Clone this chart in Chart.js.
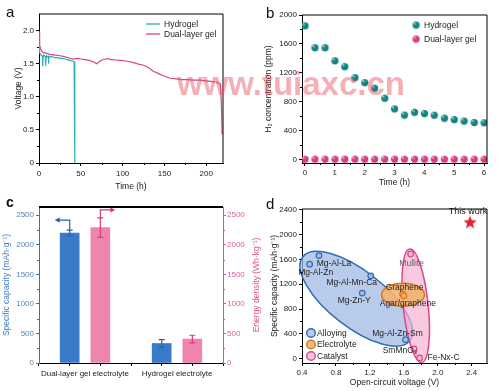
<!DOCTYPE html>
<html>
<head>
<meta charset="utf-8">
<script src="https://cdn.jsdelivr.net/npm/chart.js@4.4.0/dist/chart.umd.min.js"></script>
<style>
  body { margin: 0; width: 499px; height: 391px; background: #fff; position: relative; overflow: hidden; font-family: 'Liberation Sans', Arial, sans-serif; }
  .panel { position: absolute; }
  .tag { position: absolute; font-size: 15px; color: #111; line-height: 15px; }
  .mark { position: absolute; left: 177px; top: 67px; font: bold 33px 'Liberation Sans', Arial, sans-serif; line-height: 33px; color: rgba(236, 80, 92, 0.45); white-space: nowrap; }
</style>
</head>
<body>
<canvas class="panel" id="chartA" width="250" height="195" style="left:0;top:0"></canvas>
<canvas class="panel" id="chartB" width="249" height="195" style="left:250px;top:0"></canvas>
<canvas class="panel" id="chartD" width="249" height="196" style="left:250px;top:195px"></canvas>
<canvas class="panel" id="chartC" width="265" height="196" style="left:0;top:195px"></canvas>
<div class="tag" style="left:6px;top:4px">a</div>
<div class="tag" style="left:266px;top:5px">b</div>
<div class="tag" style="left:6px;top:195px;font-weight:bold;font-size:14px">c</div>
<div class="tag" style="left:266px;top:196px">d</div>
<div class="mark">www.tuiaxc.cn</div>
<script>
// ---- panel a: discharge voltage
const timeHydro = [0, 0.3, 0.8, 1.5, 2.5, 3.5, 4.2, 4.5, 4.8, 5.5, 6.5, 7.5, 8, 8.4, 9, 10, 11, 11.4, 11.8, 13, 15, 17, 19, 22, 25, 28, 31, 34, 37, 40, 42, 42.6, 43]
const voltHydro = [1.72, 1.82, 1.68, 1.64, 1.63, 1.62, 1.6, 1.46, 1.61, 1.63, 1.62, 1.61, 1.47, 1.6, 1.62, 1.61, 1.6, 1.5, 1.61, 1.6, 1.61, 1.6, 1.59, 1.59, 1.58, 1.58, 1.57, 1.56, 1.55, 1.54, 1.53, 1.52, 0]
const timeDual = [0, 0.5, 1, 2, 3, 5, 8, 13, 20, 25, 29, 35, 41, 45, 50, 55, 60, 65, 69, 72, 75, 80, 82, 86, 92, 98, 104, 112, 120, 124, 128, 132, 136, 143, 150, 157, 164, 170, 176, 185, 192, 200, 207, 213, 217, 218, 219]
const voltDual = [1.99, 1.86, 1.78, 1.72, 1.69, 1.67, 1.66, 1.64, 1.63, 1.62, 1.61, 1.59, 1.57, 1.58, 1.57, 1.56, 1.55, 1.53, 1.5, 1.53, 1.555, 1.57, 1.58, 1.56, 1.555, 1.55, 1.54, 1.52, 1.49, 1.48, 1.46, 1.43, 1.39, 1.35, 1.31, 1.28, 1.27, 1.26, 1.26, 1.25, 1.25, 1.24, 1.23, 1.22, 1.19, 0.9, 0.43]
const voltTicks = [0, 0.5, 1, 1.5, 2]
const timeTicks = [0, 50, 100, 150, 200]

// ---- panel b: H2 concentration
const h2Time = [0, 0.33, 0.67, 1, 1.33, 1.67, 2, 2.33, 2.67, 3, 3.33, 3.67, 4, 4.33, 4.67, 5, 5.33, 5.67, 6]
const h2Hydro = [1852, 1549, 1549, 1368, 1287, 1135, 1066, 989, 851, 703, 618, 657, 639, 616, 575, 556, 535, 515, 512]
const h2Dual = [8, 8, 8, 8, 8, 8, 8, 8, 8, 8, 8, 8, 8, 8, 8, 8, 8, 8, 8]
const h2Ticks = [0, 400, 800, 1200, 1600, 2000]
const hourTicks = [0, 1, 2, 3, 4, 5, 6]

// ---- panel c: capacity / energy density
const elecNames = ['Dual-layer gel electrolyte', 'Hydrogel electrolyte']
const capacity = [2200, 330]
const capacityErr = [50, 65]
const energy = [2290, 405]
const energyErr = [165, 65]
const capTicks = [0, 500, 1000, 1500, 2000, 2500]

// ---- panel d: comparison with reported anodes
const refNames = ['Mg-Al-La', 'Mg-Al-Zn', 'Mg-Al-Mn-Ca', 'Mg-Zn-Y', 'Mg-Al-Zn-Sm', 'Graphene', 'Agar/graphene', 'Mullite', 'SmMnO₃', 'Fe-Nx-C']
const refGroup = ['Alloying', 'Alloying', 'Alloying', 'Alloying', 'Alloying', 'Electrolyte', 'Electrolyte', 'Catalyst', 'Catalyst', 'Catalyst']
const refVoltage = [0.6, 0.49, 1.21, 1.11, 1.62, 1.585, 1.6, 1.68, 1.72, 1.785]
const refCapacity = [1663, 1525, 1336, 1058, 306, 1045, 1015, 1690, 156, 11]
const workVoltage = [2.38]
const workCapacity = [2195]
const ocvTicks = [0.4, 0.8, 1.2, 1.6, 2.0, 2.4]
const capTicksD = [0, 400, 800, 1200, 1600, 2000, 2400]

const groupNames = ['Alloying', 'Electrolyte', 'Catalyst']
const groupLine = { Alloying: '#2f6db3', Electrolyte: '#d07a28', Catalyst: '#e0458c' }
const groupFill = { Alloying: 'rgba(160,185,228,0.75)', Electrolyte: 'rgba(243,178,110,0.9)', Catalyst: 'rgba(246,178,210,0.7)' }

const FONT = "'Liberation Sans', Arial, sans-serif"
const pts = (xs, ys) => xs.map((x, i) => ({ x, y: ys[i] }))

const axis = o => ({
  type: 'linear',
  position: o.position,
  min: o.min,
  max: o.max,
  offset: false,
  afterBuildTicks: s => { s.ticks = o.ticks.map(v => ({ value: v })) },
  afterFit: s => {
    if (o.position === 'bottom') s.height = o.size
    else s.width = o.size
  },
  border: { display: true, color: o.color || '#000', width: 1 },
  grid: { drawOnChartArea: false, drawTicks: true, tickLength: 3, tickColor: o.color || '#000' },
  ticks: {
    color: o.tickColor || '#222',
    font: { family: FONT, size: 8 },
    padding: o.tickPad == null ? 2 : o.tickPad,
    maxRotation: 0,
    autoSkip: false,
    callback: o.fmt || (v => v)
  },
  title: {
    display: !!o.title,
    text: o.title,
    color: o.titleColor || '#222',
    font: { family: FONT, size: 8.5 },
    padding: o.titlePad || 0
  }
})

// frame round the plot area
const frame = {
  id: 'frame',
  afterDraw(chart, args, opts) {
    const { ctx, chartArea: a } = chart
    ctx.save()
    ctx.strokeStyle = '#000'
    ctx.lineWidth = opts.width || 1
    ctx.beginPath()
    ctx.moveTo(a.left, a.top)
    ctx.lineTo(a.right, a.top)
    if (!opts.topOnly) ctx.lineTo(a.right, a.bottom)
    ctx.stroke()
    ctx.restore()
  }
}

// small ticks halfway between major ones
const minorTicks = {
  id: 'minorTicks',
  afterDraw(chart, args, opts) {
    const ctx = chart.ctx
    ctx.save()
    ctx.lineWidth = 1
    ;(opts.axes || []).forEach(id => {
      const s = chart.scales[id]
      const vals = s.ticks.map(t => t.value)
      ctx.strokeStyle = s.options.grid.tickColor
      for (let i = 0; i < vals.length - 1; i++) {
        const p = Math.round(s.getPixelForValue((vals[i] + vals[i + 1]) / 2)) + 0.5
        ctx.beginPath()
        if (s.isHorizontal()) { ctx.moveTo(p, s.top); ctx.lineTo(p, s.top + 2) }
        else if (s.position === 'left') { ctx.moveTo(s.right, p); ctx.lineTo(s.right - 2, p) }
        else { ctx.moveTo(s.left, p); ctx.lineTo(s.left + 2, p) }
        ctx.stroke()
      }
    })
    ctx.restore()
  }
}

// legend drawn inside the plot
const inLegend = {
  id: 'inLegend',
  afterDraw(chart, args, opts) {
    const ctx = chart.ctx
    ctx.save()
    ctx.font = `${opts.size || 8.5}px ${FONT}`
    ctx.textBaseline = 'middle'
    opts.items.forEach((it, i) => {
      const y = opts.y + i * opts.gap
      if (it.type === 'line') {
        ctx.strokeStyle = it.color
        ctx.lineWidth = 1.3
        ctx.beginPath()
        ctx.moveTo(opts.x, y)
        ctx.lineTo(opts.x + 14, y)
        ctx.stroke()
      } else if (it.type === 'image') {
        ctx.drawImage(it.img, opts.x - it.img.width / 2, y - it.img.height / 2)
      } else {
        ctx.fillStyle = it.fill
        ctx.strokeStyle = it.color
        ctx.lineWidth = 1.4
        ctx.beginPath()
        ctx.arc(opts.x, y, 4.3, 0, Math.PI * 2)
        ctx.fill()
        ctx.stroke()
      }
      ctx.fillStyle = it.textColor || '#222'
      ctx.fillText(it.text, opts.x + opts.textDx, y + 0.5)
    })
    ctx.restore()
  }
}

const ball = (light, dark, r) => {
  const c = document.createElement('canvas')
  c.width = c.height = r * 2 + 2
  const g = c.getContext('2d')
  const grad = g.createRadialGradient(r * 0.75, r * 0.7, 0.3, r + 1, r + 1, r)
  grad.addColorStop(0, light)
  grad.addColorStop(0.45, dark)
  grad.addColorStop(1, dark)
  g.fillStyle = grad
  g.beginPath()
  g.arc(r + 1, r + 1, r, 0, Math.PI * 2)
  g.fill()
  return c
}

const star = (color, r) => {
  const c = document.createElement('canvas')
  c.width = c.height = r * 2 + 2
  const g = c.getContext('2d')
  g.fillStyle = color
  g.beginPath()
  for (let i = 0; i < 10; i++) {
    const rad = i % 2 ? r * 0.42 : r
    const ang = -Math.PI / 2 + i * Math.PI / 5
    g.lineTo(r + 1 + rad * Math.cos(ang), r + 1 + rad * Math.sin(ang))
  }
  g.closePath()
  g.fill()
  return c
}

const baseOptions = {
  responsive: false,
  animation: false,
  events: []
}

// ================= panel a
new Chart(document.getElementById('chartA'), {
  type: 'line',
  data: {
    datasets: [
      { label: 'Hydrogel', data: pts(timeHydro, voltHydro), borderColor: '#2aaeb1', borderWidth: 1.2, pointRadius: 0, tension: 0 },
      { label: 'Dual-layer gel', data: pts(timeDual, voltDual), borderColor: '#d8467f', borderWidth: 1.2, pointRadius: 0, tension: 0 }
    ]
  },
  options: {
    ...baseOptions,
    layout: { padding: { top: 14, right: 27, left: 0, bottom: 0 } },
    plugins: {
      legend: { display: false },
      tooltip: { enabled: false },
      minorTicks: { axes: ['x', 'y'] },
      inLegend: {
        x: 146, y: 24, gap: 10, textDx: 18,
        items: [
          { type: 'line', color: '#2aaeb1', text: 'Hydrogel' },
          { type: 'line', color: '#d8467f', text: 'Dual-layer gel' }
        ]
      }
    },
    scales: {
      x: axis({ position: 'bottom', min: 0, max: 220, ticks: timeTicks, size: 32, tickPad: 3, title: 'Time (h)', titlePad: { bottom: 3 } }),
      y: axis({ position: 'left', min: 0, max: 2.25, ticks: voltTicks, size: 39, fmt: v => v === 0 ? '0' : v.toFixed(1), title: 'Voltage (V)', titlePad: { top: 14 } })
    }
  },
  plugins: [frame, minorTicks, inLegend]
})

// ================= panel b
const tealBall = ball('#7fd6d2', '#14827f', 3.6)
const pinkBall = ball('#f6a6c8', '#d63a82', 3.6)

new Chart(document.getElementById('chartB'), {
  type: 'scatter',
  data: {
    datasets: [
      { label: 'Hydrogel', data: pts(h2Time, h2Hydro), pointStyle: tealBall, pointRadius: 3.6 },
      { label: 'Dual-layer gel', data: pts(h2Time, h2Dual), pointStyle: pinkBall, pointRadius: 3.6 }
    ]
  },
  options: {
    ...baseOptions,
    layout: { padding: { top: 15, right: 12, left: 0, bottom: 0 } },
    plugins: {
      legend: { display: false },
      tooltip: { enabled: false },
      minorTicks: { axes: ['x', 'y'] },
      inLegend: {
        x: 166, y: 25, gap: 14, textDx: 8,
        items: [
          { type: 'image', img: tealBall, text: 'Hydrogel' },
          { type: 'image', img: pinkBall, text: 'Dual-layer gel' }
        ]
      }
    },
    scales: {
      x: axis({ position: 'bottom', min: -0.1, max: 6.1, ticks: hourTicks, size: 32, tickPad: 2, title: 'Time (h)', titlePad: { bottom: 7 } }),
      y: axis({ position: 'left', min: -45, max: 2000, ticks: h2Ticks, size: 52, title: 'H₂ concentration (ppm)', titlePad: { top: 14 } })
    }
  },
  plugins: [frame, minorTicks, inLegend]
})

// ================= panel c
const BLUE = '#3a7bc8'
const PINK = '#ef84ae'

const errorBars = {
  id: 'errorBars',
  afterDatasetsDraw(chart) {
    const ctx = chart.ctx
    ctx.save()
    chart.data.datasets.forEach((ds, di) => {
      const meta = chart.getDatasetMeta(di)
      const ys = chart.scales[ds.yAxisID]
      meta.data.forEach((bar, i) => {
        const v = ds.data[i].y
        const top = ys.getPixelForValue(v + ds.errors[i])
        const bot = ys.getPixelForValue(v - ds.errors[i])
        ctx.strokeStyle = ds.errorColor
        ctx.lineWidth = 1.2
        ctx.beginPath()
        ctx.moveTo(bar.x, top); ctx.lineTo(bar.x, bot)
        ctx.moveTo(bar.x - 3, top); ctx.lineTo(bar.x + 3, top)
        ctx.moveTo(bar.x - 3, bot); ctx.lineTo(bar.x + 3, bot)
        ctx.stroke()
        // axis arrow above the first pair
        if (i === 0) {
          const dir = ds.yAxisID === 'y' ? -1 : 1
          const yTop = top - (dir < 0 ? 10 : 8)
          ctx.beginPath()
          ctx.moveTo(bar.x, top); ctx.lineTo(bar.x, yTop); ctx.lineTo(bar.x + dir * 11, yTop)
          ctx.stroke()
          ctx.fillStyle = ds.errorColor
          ctx.beginPath()
          ctx.moveTo(bar.x + dir * 15, yTop)
          ctx.lineTo(bar.x + dir * 10, yTop - 2.6)
          ctx.lineTo(bar.x + dir * 10, yTop + 2.6)
          ctx.closePath()
          ctx.fill()
        }
      })
    })
    ctx.restore()
  }
}

const sideTitle = {
  id: 'sideTitle',
  afterDraw(chart, args, opts) {
    const ctx = chart.ctx
    ctx.save()
    ctx.translate(opts.x, (chart.chartArea.top + chart.chartArea.bottom) / 2)
    ctx.rotate(-Math.PI / 2)
    ctx.font = `8.5px ${FONT}`
    ctx.fillStyle = opts.color
    ctx.textAlign = 'center'
    ctx.textBaseline = 'middle'
    ctx.fillText(opts.text, 0, 0)
    ctx.restore()
  }
}

new Chart(document.getElementById('chartC'), {
  type: 'bar',
  data: {
    datasets: [
      {
        label: 'Specific capacity',
        data: capacity.map((v, i) => ({ x: 1 + 3 * i, y: v })),
        errors: capacityErr,
        errorColor: '#2563ac',
        backgroundColor: BLUE,
        yAxisID: 'y',
        grouped: false,
        barThickness: 19
      },
      {
        label: 'Energy density',
        data: energy.map((v, i) => ({ x: 2 + 3 * i, y: v })),
        errors: energyErr,
        errorColor: '#e2367a',
        backgroundColor: PINK,
        yAxisID: 'y2',
        grouped: false,
        barThickness: 19
      }
    ]
  },
  options: {
    ...baseOptions,
    layout: { padding: { top: 12, right: 0, left: 0, bottom: 0 } },
    plugins: {
      legend: { display: false },
      tooltip: { enabled: false },
      frame: { topOnly: true, width: 2 },
      minorTicks: { axes: ['y', 'y2'] },
      sideTitle: { x: 257, color: '#e0508c', text: 'Energy density (Wh·kg⁻¹)' }
    },
    scales: {
      x: axis({
        position: 'bottom', min: 0, max: 6, ticks: [0.5, 1.5, 2.5, 3.5, 4.5, 5.5], size: 28, tickPad: 3,
        fmt: v => v === 1.5 ? elecNames[0] : v === 4.5 ? elecNames[1] : ''
      }),
      y: axis({
        position: 'left', min: 0, max: 2640, ticks: capTicks, size: 39, color: '#2f74c4', tickColor: '#5a82b8',
        title: 'Specific capacity (mAh·g⁻¹)', titleColor: '#3f7cc6', titlePad: { top: 2 }
      }),
      y2: axis({
        position: 'right', min: 0, max: 2640, ticks: capTicks, size: 42, color: '#dc5390', tickColor: '#d8609a', tickPad: 1
      })
    }
  },
  plugins: [frame, minorTicks, errorBars, sideTitle]
})

// ================= panel d
const ellipses = {
  id: 'ellipses',
  beforeDatasetsDraw(chart, args, opts) {
    const { ctx, scales: { x, y } } = chart
    ctx.save()
    opts.items.forEach(e => {
      ctx.save()
      ctx.translate(x.getPixelForValue(e.cx), y.getPixelForValue(e.cy))
      ctx.rotate(e.angle * Math.PI / 180)
      ctx.beginPath()
      ctx.ellipse(0, 0, e.rx, e.ry, 0, 0, Math.PI * 2)
      ctx.fillStyle = groupFill[e.group]
      ctx.fill()
      ctx.lineWidth = 1.5
      ctx.strokeStyle = groupLine[e.group]
      ctx.stroke()
      ctx.restore()
    })
    ctx.restore()
  },
  afterDatasetsDraw(chart, args, opts) {
    const ctx = chart.ctx
    ctx.save()
    ctx.font = `8.5px ${FONT}`
    ctx.textAlign = 'center'
    ctx.textBaseline = 'middle'
    const meta = chart.getDatasetMeta(0)
    meta.data.forEach((p, i) => {
      const off = opts.labelOffsets[i]
      ctx.fillStyle = refNames[i] === 'Mullite' ? '#6b5a63' : '#222'
      ctx.fillText(refNames[i], p.x + off[0], p.y + off[1])
    })
    const w = chart.getDatasetMeta(1).data[0]
    ctx.font = `9px ${FONT}`
    ctx.fillStyle = '#111'
    ctx.fillText('This work', w.x - 2, w.y - 11)
    ctx.restore()
  }
}

new Chart(document.getElementById('chartD'), {
  type: 'scatter',
  data: {
    datasets: [
      {
        label: 'Reported',
        data: pts(refVoltage, refCapacity),
        pointRadius: 2.8,
        pointBorderWidth: 1.2,
        pointBackgroundColor: refGroup.map(g => groupFill[g]),
        pointBorderColor: refGroup.map(g => groupLine[g])
      },
      {
        label: 'This work',
        data: pts(workVoltage, workCapacity),
        pointStyle: star('#e3222b', 7),
        pointRadius: 7
      }
    ]
  },
  options: {
    ...baseOptions,
    layout: { padding: { top: 14, right: 12, left: 0, bottom: 0 } },
    plugins: {
      legend: { display: false },
      tooltip: { enabled: false },
      minorTicks: { axes: ['x', 'y'] },
      ellipses: {
        items: [
          { group: 'Alloying', cx: 1.04, cy: 966, rx: 68, ry: 28, angle: 38 },
          { group: 'Catalyst', cx: 1.74, cy: 853, rx: 12.5, ry: 57, angle: -6 },
          { group: 'Electrolyte', cx: 1.59, cy: 1031, rx: 21.5, ry: 11.5, angle: 0 }
        ],
        labelOffsets: [[15, 7.6], [6, 9], [-19, 7], [-8, 8], [-8, -6], [2, -6], [4, 8], [1, 10], [-14, 2], [24, 0]]
      },
      inLegend: {
        x: 61, y: 138, gap: 11.5, textDx: 6, size: 8.5,
        items: groupNames.map(g => ({ type: 'dot', color: groupLine[g], fill: groupFill[g], text: g }))
      }
    },
    scales: {
      x: axis({ position: 'bottom', min: 0.4, max: 2.58, ticks: ocvTicks, size: 28, tickPad: 2, fmt: v => v.toFixed(1), title: 'Open-circuit voltage (V)', titlePad: { bottom: 3 } }),
      y: axis({ position: 'left', min: -70, max: 2415, ticks: capTicksD, size: 52, title: 'Specific capacity (mAh·g⁻¹)', titlePad: { top: 20 } })
    }
  },
  plugins: [frame, minorTicks, ellipses, inLegend]
})
</script>
</body>
</html>
